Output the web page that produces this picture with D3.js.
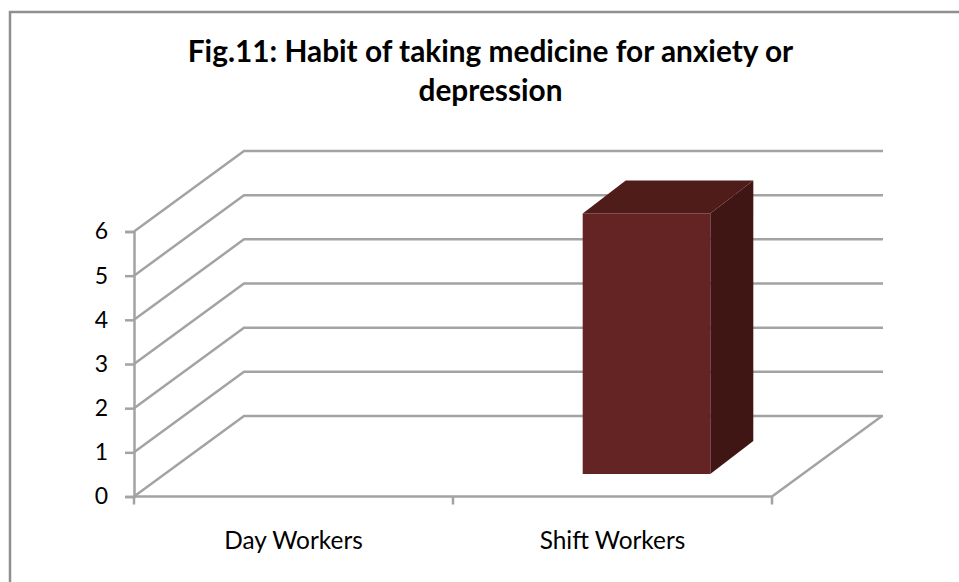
<!DOCTYPE html>
<html>
<head>
<meta charset="utf-8">
<script src="https://cdn.jsdelivr.net/npm/d3@7"></script>
<style>
  html, body { margin: 0; padding: 0; background: #fff; }
  svg { display: block; }
  text { font-family: Lato, "Open Sans", sans-serif; fill: #000; }
</style>
</head>
<body>
<div id="chart"></div>
<script>
var categories = ['Day Workers', 'Shift Workers'];
var values = [0, 5.9];
var yTicks = [0, 1, 2, 3, 4, 5, 6];
var titleLines = ['Fig.11: Habit of taking medicine for anxiety or', 'depression'];

var attrs = {
  width: 959,
  height: 582,
  plotLeft: 134,
  plotRight: 772,
  plotBottom: 496.5,
  plotTop: 231.5,
  depthX: 110,
  depthY: 80.5,
  barShiftX: 34,
  barShiftY: 22.5,
  barDepthX: 43,
  barDepthY: 33,
  gridColor: '#a3a3a3',
  frameColor: '#8f8f8f',
  barFront: '#632423',
  barTop: '#4f1c1a',
  barSide: '#3f1614'
};

var svg = d3.select('#chart').append('svg')
  .attr('width', attrs.width)
  .attr('height', attrs.height);

// chart frame, open on the right and at the bottom as in the cropped original
svg.append('path')
  .attr('d', 'M10,582V12H959')
  .attr('fill', 'none')
  .attr('stroke', attrs.frameColor)
  .attr('stroke-width', 2.5);

var x = d3.scaleBand()
  .domain(categories)
  .range([attrs.plotLeft, attrs.plotRight])
  .paddingInner(0.6)
  .paddingOuter(0.3);

// second band scale without padding, used for the category ticks and labels
var xOuter = d3.scaleBand()
  .domain(categories)
  .range([attrs.plotLeft, attrs.plotRight]);

var y = d3.scaleLinear()
  .domain([0, 6])
  .range([attrs.plotBottom, attrs.plotTop]);

// gridlines: wall part plus the slanted part on the left side
var grid = svg.append('g').attr('class', 'grid');
grid.selectAll('path')
  .data(yTicks)
  .enter()
  .append('path')
  .attr('d', function(d) {
    var backY = y(d) - attrs.depthY;
    return 'M' + attrs.plotLeft + ',' + y(d) +
      'L' + (attrs.plotLeft + attrs.depthX) + ',' + backY +
      'H' + (attrs.plotRight + attrs.depthX + 1);
  })
  .attr('fill', 'none')
  .attr('stroke', attrs.gridColor)
  .attr('stroke-width', 2.5);

// floor edges
grid.append('path')
  .attr('d', 'M' + attrs.plotLeft + ',' + y(0) + 'H' + attrs.plotRight +
    'L' + (attrs.plotRight + attrs.depthX) + ',' + (y(0) - attrs.depthY))
  .attr('fill', 'none')
  .attr('stroke', attrs.gridColor)
  .attr('stroke-width', 2.5);

// axes
var yAxis = d3.axisLeft(y).tickValues(yTicks).tickSize(9).tickPadding(17).tickFormat(d3.format('d'));
var xAxis = d3.axisBottom(xOuter).tickSize(0).tickPadding(35);

var yG = svg.append('g')
  .attr('transform', 'translate(' + attrs.plotLeft + ',0)')
  .call(yAxis);
var xG = svg.append('g')
  .attr('transform', 'translate(0,' + attrs.plotBottom + ')')
  .call(xAxis);

[yG, xG].forEach(function(g) {
  g.selectAll('.domain').attr('stroke', attrs.gridColor).attr('stroke-width', 2.5);
  g.selectAll('.tick line').attr('stroke', attrs.gridColor).attr('stroke-width', 2.5);
  g.selectAll('text').attr('fill', '#000');
});
yG.selectAll('text').attr('font-size', 23);
xG.selectAll('text').attr('font-size', 24.4);
xG.select('.domain').remove();

// category tick marks sit on the band edges
xG.selectAll('.edge')
  .data([attrs.plotLeft].concat(categories.map(function(c) { return xOuter(c) + xOuter.bandwidth(); })))
  .enter()
  .append('line')
  .attr('class', 'edge')
  .attr('x1', function(d) { return d; })
  .attr('x2', function(d) { return d; })
  .attr('y1', 0)
  .attr('y2', 8)
  .attr('stroke', attrs.gridColor)
  .attr('stroke-width', 2.5);

// 3d bars
var bars = svg.append('g').attr('class', 'bars')
  .selectAll('g')
  .data(categories.map(function(c, i) { return { category: c, value: values[i] }; })
    .filter(function(d) { return d.value > 0; }))
  .enter()
  .append('g');

function corners(d) {
  return {
    x0: x(d.category) + attrs.barShiftX,
    x1: x(d.category) + x.bandwidth() + attrs.barShiftX,
    yTop: y(d.value) - attrs.barShiftY,
    yBottom: y(0) - attrs.barShiftY
  };
}

bars.append('polygon')
  .attr('fill', attrs.barSide)
  .attr('points', function(d) {
    var c = corners(d);
    return [[c.x1, c.yTop], [c.x1 + attrs.barDepthX, c.yTop - attrs.barDepthY],
      [c.x1 + attrs.barDepthX, c.yBottom - attrs.barDepthY], [c.x1, c.yBottom]].join(' ');
  });

bars.append('polygon')
  .attr('fill', attrs.barTop)
  .attr('points', function(d) {
    var c = corners(d);
    return [[c.x0, c.yTop], [c.x0 + attrs.barDepthX, c.yTop - attrs.barDepthY],
      [c.x1 + attrs.barDepthX, c.yTop - attrs.barDepthY], [c.x1, c.yTop]].join(' ');
  });

bars.append('rect')
  .attr('fill', attrs.barFront)
  .attr('x', function(d) { return corners(d).x0; })
  .attr('y', function(d) { return corners(d).yTop; })
  .attr('width', x.bandwidth())
  .attr('height', function(d) { return y(0) - y(d.value); });

// title
svg.append('g').selectAll('text')
  .data(titleLines)
  .enter()
  .append('text')
  .attr('x', 490.5)
  .attr('y', function(d, i) { return 62 + i * 38.5; })
  .attr('text-anchor', 'middle')
  .attr('font-size', 29.8)
  .attr('font-weight', 700)
  .text(function(d) { return d; });
</script>
</body>
</html>
